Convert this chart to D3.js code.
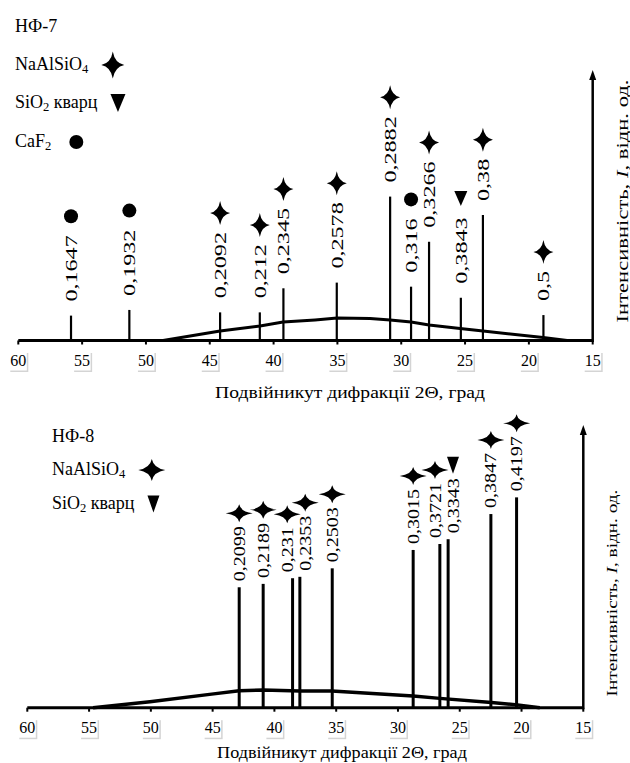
<!DOCTYPE html>
<meta charset="utf-8">
<script src="https://d3js.org/d3.v7.min.js"></script>
<style>
body { margin: 0; background: #fff; }
text { font-family: "Liberation Serif", "Times New Roman", serif; fill: #000; }
</style>
<body>
<script>
// 2-theta ticks, same for both patterns
var tickValues = [60, 55, 50, 45, 40, 35, 30, 25, 20, 15];

// phases used in legend
var phaseKeys = ["nepheline", "quartz", "caf2"];
var phaseNames = ["NaAlSiO_4", "SiO_2 кварц", "CaF_2"];

// НФ-7 peaks (2theta, rel. intensity, d-spacing label, phase)
var nf7Angle = [55.87, 51.3, 44.19, 41.08, 39.23, 35.05, 30.87, 29.23, 27.82, 25.33, 23.6, 18.86];
var nf7Intensity = [9.2, 11.3, 10.4, 10.4, 19.3, 21.4, 53.2, 19.9, 36.5, 15.8, 46.4, 9.4];
var nf7Label = ["0,1647", "0,1932", "0,2092", "0,212", "0,2345", "0,2578", "0,2882", "0,316", "0,3266", "0,3843", "0,38", "0,5"];
var nf7Phase = ["caf2", "caf2", "nepheline", "nepheline", "nepheline", "nepheline", "nepheline", "caf2", "nepheline", "quartz", "nepheline", "nepheline"];
// НФ-7 amorphous halo
var nf7BgAngle = [48.66, 44.19, 41.06, 39.26, 36.75, 35.03, 32.44, 30.87, 29.23, 27.82, 25.39, 23.59, 18.89, 17.0];
var nf7BgIntensity = [0, 3.5, 5.4, 6.8, 7.6, 8.3, 8.1, 7.6, 6.8, 5.7, 4.4, 3.5, 1.1, 0];

// НФ-8 peaks
var nf8Angle = [42.85, 40.91, 38.53, 37.94, 35.32, 28.77, 26.61, 25.94, 22.48, 20.4];
var nf8Intensity = [42.6, 43.8, 45.8, 46.3, 49.3, 55.8, 57.9, 59.6, 68.5, 74.4];
var nf8Label = ["0,2099", "0,2189", "0,231", "0,2353", "0,2503", "0,3015", "0,3721", "0,3343", "0,3847", "0,4197"];
var nf8Phase = ["nepheline", "nepheline", "nepheline", "nepheline", "nepheline", "nepheline", "nepheline", "quartz", "nepheline", "nepheline"];
var nf8BgAngle = [54.68, 50.07, 45.08, 42.85, 40.91, 37.94, 35.35, 28.77, 26.61, 22.43, 20.32, 18.52];
var nf8BgIntensity = [0, 2.1, 4.8, 6.0, 6.3, 5.9, 5.9, 4.1, 3.3, 1.8, 1.0, 0];

var xTitle = "Подвійникут дифракції 2Θ, град";

var width = 630, height = 763;

var svg = d3.select("body").append("svg")
    .attr("width", width)
    .attr("height", height);

// 4-point sparkle
function starPath(w, h) {
  var k = Math.min(w, h) * 0.17;
  return "M0," + (-h) + "Q" + k + "," + (-k) + " " + w + ",0" +
         "Q" + k + "," + k + " 0," + h +
         "Q" + (-k) + "," + k + " " + (-w) + ",0" +
         "Q" + (-k) + "," + (-k) + " 0," + (-h) + "Z";
}

function drawMarker(g, phase, x, y, s) {
  if (phase == "nepheline") {
    g.append("path").attr("d", starPath(s.starW, s.starH))
      .attr("transform", "translate(" + x + "," + y + ")");
  } else if (phase == "quartz") {
    var w = s.triW / 2, h = s.triH / 2;
    g.append("path").attr("d", "M" + (-w) + "," + (-h) + "L" + w + "," + (-h) + "L0," + h + "Z")
      .attr("transform", "translate(" + x + "," + y + ")");
  } else {
    g.append("circle").attr("cx", x).attr("cy", y).attr("r", 7);
  }
}

// text with _N subscripts
function richText(t, str, size) {
  var shift = 0;
  str.split(/(_\d)/).forEach(function(part) {
    if (!part) return;
    if (part[0] == "_") {
      t.append("tspan").attr("font-size", size * 0.7).attr("dy", 3).text(part.slice(1));
      shift = -3;
    } else {
      t.append("tspan").attr("dy", shift).text(part);
      shift = 0;
    }
  });
}

// spread crowded labels apart (positions sorted ascending)
function dodge(xs, gap) {
  var pos = xs.slice();
  for (var it = 0; it < 10; it++) {
    var i = 0;
    while (i < pos.length) {
      var j = i;
      while (j + 1 < pos.length && pos[j + 1] - pos[j] < gap - 0.01) j++;
      if (j > i) {
        var m = d3.mean(xs.slice(i, j + 1));
        for (var k = i; k <= j; k++) pos[k] = m + (k - i - (j - i) / 2) * gap;
      }
      i = j + 1;
    }
  }
  return pos;
}

function drawPanel(p) {
  var g = svg.append("g");
  var x = d3.scaleLinear().domain([60, 15]).range([p.x0, p.x1]);
  var y = d3.scaleLinear().domain([0, 100]).range([p.yBase, p.yTop]);

  // halo
  var bg = d3.zip(p.bgAngle, p.bgIntensity);
  g.append("path")
    .datum(bg)
    .attr("fill", "none")
    .attr("stroke", "#000")
    .attr("stroke-width", p.bgWidth)
    .attr("d", d3.line().x(function(d) { return x(d[0]); }).y(function(d) { return y(d[1]); }));

  // peaks
  var peaks = d3.range(p.angle.length).map(function(i) {
    return { a: p.angle[i], v: p.intensity[i], label: p.label[i], phase: p.phase[i] };
  });
  g.selectAll("line.peak").data(peaks).enter().append("line")
    .attr("class", "peak")
    .attr("x1", function(d) { return x(d.a); })
    .attr("x2", function(d) { return x(d.a); })
    .attr("y1", y(0))
    .attr("y2", function(d) { return y(d.v); })
    .attr("stroke", "#000")
    .attr("stroke-width", p.peakWidth);

  var lx = dodge(peaks.map(function(d) { return x(d.a); }), p.labelSep);
  peaks.forEach(function(d, i) {
    var yb = y(d.v) - p.labelGap;
    var t = g.append("text")
      .attr("font-size", p.labelSize)
      .attr("dy", "0.35em")
      .attr("transform", "translate(" + lx[i] + "," + yb + ") rotate(-90) scale(" + p.labelStretch + ",1)")
      .text(d.label);
    var len = t.node().getComputedTextLength() * p.labelStretch;
    drawMarker(g, d.phase, lx[i], yb - len - p.markerGap, p);
  });

  // x axis
  g.append("line")
    .attr("x1", x(60)).attr("x2", x(15))
    .attr("y1", p.yBase).attr("y2", p.yBase)
    .attr("stroke", "#000").attr("stroke-width", 3);
  var tk = g.selectAll("g.tick").data(tickValues).enter().append("g")
    .attr("class", "tick")
    .attr("transform", function(d) { return "translate(" + x(d) + "," + p.yBase + ")"; });
  tk.append("line").attr("y1", 0).attr("y2", 4).attr("stroke", "#000").attr("stroke-width", 2);
  tk.append("rect").attr("x", -8).attr("y", 12.5).attr("width", 18).attr("height", 19).attr("fill", "#d4d4d4");
  tk.append("rect").attr("x", -9.5).attr("y", 11).attr("width", 18).attr("height", 19).attr("fill", "#fff");
  tk.append("text").attr("y", 25).attr("text-anchor", "middle").attr("font-size", 16)
    .text(function(d) { return d; });

  var xt = g.append("text")
    .attr("font-size", 17)
    .attr("text-anchor", "middle")
    .text(xTitle);
  var xs = p.xTitleLen / xt.node().getComputedTextLength();
  xt.attr("transform", "translate(" + p.xTitleX + "," + p.xTitleY + ") scale(" + xs + ",1)");

  // y axis with arrow
  g.append("line")
    .attr("x1", p.x1).attr("x2", p.x1)
    .attr("y1", p.yBase + 1.5).attr("y2", p.yTop + 8)
    .attr("stroke", "#000").attr("stroke-width", 2.5);
  g.append("path")
    .attr("d", "M" + (p.x1 - 3.5) + "," + (p.yTop + 10) + "L" + p.x1 + "," + p.yTop + "L" + (p.x1 + 3.5) + "," + (p.yTop + 10) + "Z");

  var yt = g.append("text").attr("font-size", p.yTitleSize).attr("text-anchor", "middle").attr("dy", "0.35em");
  yt.append("tspan").text("Інтенсивність, ");
  yt.append("tspan").attr("font-style", "italic").text("I");
  yt.append("tspan").text(", відн. од.");
  var ys = p.yTitleLen / yt.node().getComputedTextLength();
  yt.attr("transform", "translate(" + p.yTitleX + "," + p.yTitleY + ") rotate(-90) scale(" + ys + ",1)");

  // legend
  g.append("text").attr("x", p.legX).attr("y", p.titleY).attr("font-size", 18).text(p.title);
  p.legend.forEach(function(key, i) {
    var by = p.legY[i];
    var t = g.append("text").attr("x", p.legX).attr("y", by).attr("font-size", 18);
    richText(t, phaseNames[phaseKeys.indexOf(key)], 18);
    var end = p.legX + t.node().getComputedTextLength();
    var ls = { starW: p.legStarW, starH: p.legStarH, triW: p.legTriW, triH: p.legTriH };
    var half = key == "nepheline" ? p.legStarW : (key == "quartz" ? p.legTriW / 2 : 7);
    var gap = key == "caf2" ? 18 : 13;
    drawMarker(g, key, end + gap + half, by - 5, ls);
  });
}

drawPanel({
  x0: 18.3, x1: 592.7, yBase: 340.5, yTop: 70,
  angle: nf7Angle, intensity: nf7Intensity, label: nf7Label, phase: nf7Phase,
  bgAngle: nf7BgAngle, bgIntensity: nf7BgIntensity,
  bgWidth: 3, peakWidth: 2.2,
  labelSize: 17, labelStretch: 1.42, labelGap: 14, markerGap: 19, labelSep: 18,
  starW: 10, starH: 12, triW: 13, triH: 15,
  legStarW: 11.5, legStarH: 13.5, legTriW: 15, legTriH: 18,
  xTitleX: 350, xTitleY: 398, xTitleLen: 270,
  yTitleX: 622, yTitleY: 201, yTitleLen: 243, yTitleSize: 17,
  title: "НФ-7", titleY: 32, legX: 15, legY: [70, 108, 147],
  legend: ["nepheline", "quartz", "caf2"]
});

drawPanel({
  x0: 27.3, x1: 583.3, yBase: 707.7, yTop: 425,
  angle: nf8Angle, intensity: nf8Intensity, label: nf8Label, phase: nf8Phase,
  bgAngle: nf8BgAngle, bgIntensity: nf8BgIntensity,
  bgWidth: 3.5, peakWidth: 3,
  labelSize: 16, labelStretch: 1.25, labelGap: 6, markerGap: 13, labelSep: 18,
  starW: 13.5, starH: 9, triW: 12, triH: 17,
  legStarW: 13.5, legStarH: 11, legTriW: 12, legTriH: 17,
  xTitleX: 342, xTitleY: 758, xTitleLen: 250,
  yTitleX: 611.7, yTitleY: 593, yTitleLen: 207, yTitleSize: 15,
  title: "НФ-8", titleY: 442, legX: 52, legY: [475, 509],
  legend: ["nepheline", "quartz"]
});
</script>
</body>
